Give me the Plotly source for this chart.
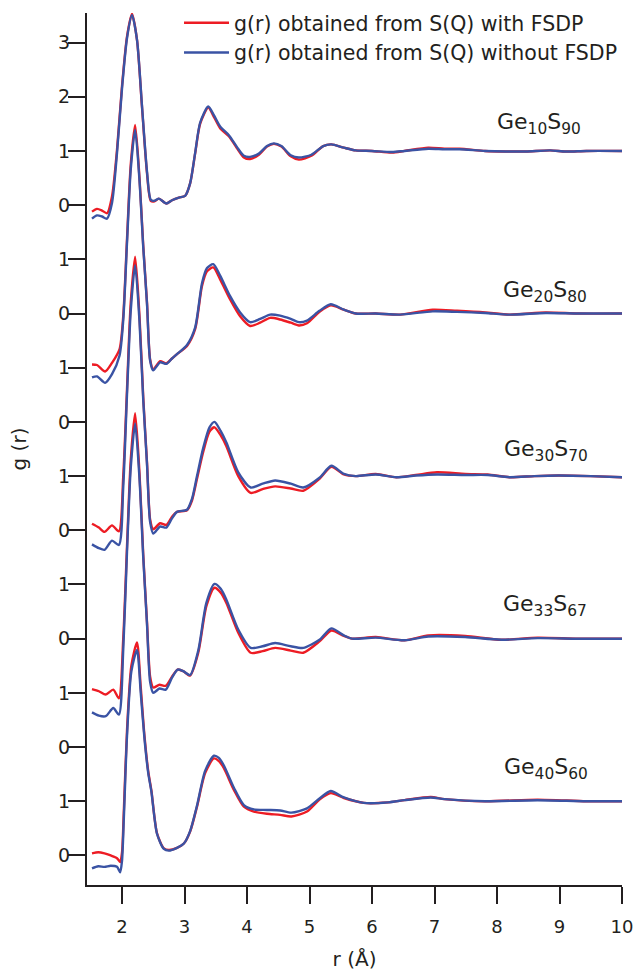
import plotly.graph_objects as go

# ---------------- data ----------------
names = ["Ge<sub>10</sub>S<sub>90</sub>", "Ge<sub>20</sub>S<sub>80</sub>",
         "Ge<sub>30</sub>S<sub>70</sub>", "Ge<sub>33</sub>S<sub>67</sub>",
         "Ge<sub>40</sub>S<sub>60</sub>"]
offsets = [12, 9, 6, 3, 0]

r_ge10 = [1.52, 1.60, 1.68, 1.76, 1.84, 1.92, 2.00, 2.08, 2.16, 2.24, 2.32, 2.40, 2.46, 2.52, 2.59,
          2.71, 2.80, 2.91, 3.01, 3.09, 3.17, 3.25, 3.38, 3.47, 3.57, 3.71, 3.84, 3.95, 4.05, 4.19,
          4.32, 4.43, 4.55, 4.70, 4.83, 5.03, 5.22, 5.35, 5.55, 5.74, 6.00, 6.32, 6.52, 6.90, 7.16,
          7.40, 7.81, 8.14, 8.46, 8.85, 9.10, 9.43, 10.0]
red_ge10 = [-0.12, -0.07, -0.10, -0.15, 0.16, 1.02, 2.19, 3.11, 3.53, 3.05, 1.81, 0.59, 0.08, 0.07, 0.12,
            0.03, 0.09, 0.14, 0.17, 0.40, 0.95, 1.50, 1.80, 1.63, 1.42, 1.27, 1.05, 0.88, 0.85, 0.93,
            1.08, 1.13, 1.08, 0.90, 0.84, 0.91, 1.09, 1.12, 1.06, 1.01, 1.00, 0.97, 1.00, 1.06, 1.04,
            1.04, 1.00, 0.99, 0.99, 1.01, 0.99, 1.00, 1.00]
blue_ge10 = [-0.25, -0.19, -0.21, -0.25, 0.04, 0.96, 2.15, 3.08, 3.51, 3.05, 1.83, 0.62, 0.10, 0.08, 0.12,
             0.03, 0.09, 0.14, 0.17, 0.40, 0.96, 1.52, 1.82, 1.66, 1.45, 1.29, 1.07, 0.91, 0.89, 0.95,
             1.09, 1.14, 1.09, 0.92, 0.88, 0.93, 1.09, 1.12, 1.06, 1.01, 1.00, 0.98, 1.00, 1.04, 1.03,
             1.03, 1.00, 0.99, 0.99, 1.01, 0.99, 1.00, 1.00]

r_ge20 = [1.52, 1.60, 1.73, 1.84, 1.96, 2.02, 2.08, 2.14, 2.21, 2.28, 2.34, 2.40, 2.45, 2.50, 2.61,
          2.71, 2.80, 2.88, 3.04, 3.17, 3.28, 3.36, 3.46, 3.57, 3.73, 3.89, 4.05, 4.21, 4.37, 4.53,
          4.70, 4.83, 4.96, 5.16, 5.34, 5.55, 5.74, 6.06, 6.45, 6.97, 7.36, 7.81, 8.20, 8.78, 9.30,
          10.0]
red_ge20 = [0.06, 0.05, -0.07, 0.09, 0.34, 0.95, 2.37, 3.75, 4.48, 3.50, 2.25, 1.20, 0.15, -0.03, 0.12,
            0.08, 0.17, 0.25, 0.40, 0.71, 1.51, 1.78, 1.85, 1.63, 1.26, 0.95, 0.77, 0.83, 0.92, 0.89,
            0.83, 0.78, 0.82, 1.03, 1.15, 1.07, 1.00, 1.00, 0.98, 1.07, 1.05, 1.02, 0.98, 1.02, 1.00,
            1.00]
blue_ge20 = [-0.18, -0.16, -0.28, -0.12, 0.22, 0.88, 2.30, 3.66, 4.39, 3.45, 2.22, 1.18, 0.13, -0.05, 0.10,
             0.07, 0.17, 0.25, 0.42, 0.74, 1.56, 1.84, 1.91, 1.70, 1.32, 1.02, 0.84, 0.90, 0.98, 0.96,
             0.90, 0.84, 0.87, 1.05, 1.17, 1.07, 1.00, 1.00, 0.98, 1.04, 1.03, 1.01, 0.98, 1.01, 1.00,
             1.00]

r_ge30 = [1.52, 1.63, 1.72, 1.84, 1.95, 2.02, 2.08, 2.14, 2.21, 2.28, 2.34, 2.40, 2.45, 2.50, 2.61,
          2.71, 2.80, 2.88, 3.04, 3.12, 3.20, 3.30, 3.40, 3.48, 3.58, 3.67, 3.86, 4.06, 4.25, 4.45,
          4.70, 4.90, 5.16, 5.35, 5.55, 5.74, 6.06, 6.39, 6.70, 7.04, 7.49, 7.85, 8.20, 8.60, 8.98,
          9.50, 10.0]
red_ge30 = [0.12, 0.05, -0.03, 0.09, -0.02, 1.00, 2.60, 4.20, 5.05, 3.95, 2.45, 1.25, 0.20, 0.02, 0.13,
            0.10, 0.25, 0.34, 0.37, 0.55, 0.95, 1.45, 1.82, 1.90, 1.75, 1.55, 1.00, 0.69, 0.76, 0.81,
            0.77, 0.73, 0.95, 1.17, 1.03, 1.00, 1.04, 0.98, 1.02, 1.07, 1.04, 1.03, 0.98, 1.00, 1.01,
            1.00, 0.98]
blue_ge30 = [-0.26, -0.33, -0.36, -0.19, -0.27, 0.80, 2.50, 4.05, 4.89, 3.85, 2.40, 1.22, 0.15, -0.06, 0.07,
             0.05, 0.22, 0.34, 0.38, 0.58, 1.00, 1.52, 1.90, 2.00, 1.83, 1.62, 1.07, 0.79, 0.86, 0.92,
             0.86, 0.79, 0.97, 1.19, 1.04, 1.00, 1.03, 0.98, 1.01, 1.03, 1.02, 1.02, 0.98, 1.00, 1.01,
             1.00, 0.98]

r_ge33 = [1.52, 1.63, 1.74, 1.86, 1.95, 2.02, 2.08, 2.14, 2.21, 2.28, 2.34, 2.40, 2.45, 2.50, 2.60,
          2.70, 2.80, 2.89, 2.98, 3.09, 3.22, 3.35, 3.48, 3.58, 3.67, 3.86, 4.06, 4.25, 4.45, 4.70,
          4.90, 5.16, 5.35, 5.55, 5.68, 6.06, 6.52, 6.90, 7.49, 8.07, 8.65, 9.30, 10.0]
red_ge33 = [0.07, 0.03, -0.03, 0.06, -0.10, 1.00, 2.70, 4.30, 5.16, 4.05, 2.55, 1.30, 0.30, 0.10, 0.15,
            0.13, 0.30, 0.43, 0.40, 0.32, 0.74, 1.60, 1.94, 1.85, 1.66, 1.11, 0.74, 0.77, 0.83, 0.78,
            0.74, 0.95, 1.15, 1.05, 1.00, 1.03, 0.97, 1.06, 1.05, 0.98, 1.02, 1.00, 1.00]
blue_ge33 = [-0.36, -0.42, -0.43, -0.28, -0.40, 0.80, 2.60, 4.15, 4.97, 3.95, 2.50, 1.27, 0.20, 0.00, 0.08,
             0.06, 0.28, 0.43, 0.40, 0.33, 0.78, 1.66, 2.01, 1.92, 1.72, 1.17, 0.83, 0.86, 0.92, 0.86,
             0.83, 0.98, 1.19, 1.06, 1.00, 1.02, 0.97, 1.04, 1.03, 0.98, 1.01, 1.00, 1.00]

r_ge40 = [1.52, 1.62, 1.72, 1.82, 1.92, 1.97, 2.00, 2.03, 2.08, 2.15, 2.24, 2.30, 2.36, 2.42, 2.47,
          2.56, 2.67, 2.75, 2.88, 2.99, 3.09, 3.20, 3.33, 3.47, 3.55, 3.63, 3.79, 3.95, 4.11, 4.32,
          4.53, 4.71, 4.96, 5.16, 5.34, 5.55, 5.87, 6.26, 6.52, 6.94, 7.16, 7.81, 8.65, 9.43, 10.0]
red_ge40 = [0.04, 0.06, 0.04, 0.00, -0.05, -0.12, 0.05, 0.84, 2.30, 3.50, 3.93, 3.10, 2.20, 1.55, 1.20,
            0.41, 0.13, 0.10, 0.14, 0.22, 0.44, 0.90, 1.52, 1.79, 1.74, 1.61, 1.21, 0.90, 0.81, 0.77,
            0.75, 0.72, 0.81, 1.03, 1.15, 1.06, 0.97, 0.98, 1.02, 1.08, 1.04, 1.00, 1.03, 1.00, 1.00]
blue_ge40 = [-0.24, -0.20, -0.21, -0.19, -0.21, -0.31, -0.10, 0.70, 2.20, 3.40, 3.79, 3.00, 2.15, 1.52, 1.18,
             0.40, 0.12, 0.09, 0.14, 0.22, 0.45, 0.92, 1.56, 1.84, 1.80, 1.66, 1.25, 0.93, 0.85, 0.84,
             0.83, 0.79, 0.87, 1.05, 1.19, 1.07, 0.97, 0.98, 1.02, 1.07, 1.04, 1.00, 1.02, 1.00, 1.00]

r_sets = [r_ge10, r_ge20, r_ge30, r_ge33, r_ge40]
red_sets = [red_ge10, red_ge20, red_ge30, red_ge33, red_ge40]
blue_sets = [blue_ge10, blue_ge20, blue_ge30, blue_ge33, blue_ge40]

x_ticks = [2, 3, 4, 5, 6, 7, 8, 9, 10]
y_tickvals = list(range(16))
y_ticktext = ["0", "1", "0", "1", "0", "1", "0", "1", "0", "1", "0", "1", "0", "1", "2", "3"]

legend_red = "g(r) obtained from S(Q) with FSDP"
legend_blue = "g(r) obtained from S(Q) without FSDP"

# ---------------- styling ----------------
RED = "#ED1C24"
BLUE = "#3A53A4"
INK = "#231F20"
FONT = "DejaVu Sans"

fig = go.Figure()

for i, (r, g, off) in enumerate(zip(r_sets, red_sets, offsets)):
    fig.add_trace(go.Scatter(
        x=r, y=[v + off for v in g], mode="lines",
        line=dict(color=RED, width=2.4, shape="spline", smoothing=0.7),
        name=legend_red, showlegend=(i == 0), hoverinfo="skip"))

for i, (r, g, off) in enumerate(zip(r_sets, blue_sets, offsets)):
    fig.add_trace(go.Scatter(
        x=r, y=[v + off for v in g], mode="lines",
        line=dict(color=BLUE, width=2.4, shape="spline", smoothing=0.7),
        name=legend_blue, showlegend=(i == 0), hoverinfo="skip"))

label_x = [8.67, 8.76, 8.79, 8.76, 8.79]
label_y = [13.50, 10.40, 7.47, 4.61, 1.61]
for name, lx, ly in zip(names, label_x, label_y):
    fig.add_annotation(x=lx, y=ly, xref="x", yref="y", text=name, showarrow=False,
                       font=dict(family=FONT, size=22, color=INK),
                       xanchor="center", yanchor="middle")

fig.update_layout(
    width=633, height=971,
    margin=dict(l=87, r=11, t=13, b=86, autoexpand=False),
    plot_bgcolor="white", paper_bgcolor="white",
    font=dict(family=FONT, color=INK),
    showlegend=True,
    legend=dict(x=0.172, y=1.0115, xanchor="left", yanchor="top",
                font=dict(family=FONT, size=20.5, color=INK),
                bgcolor="rgba(0,0,0,0)", traceorder="normal",
                itemwidth=45),
    xaxis=dict(range=[1.44, 10.0], tickvals=x_ticks, ticktext=[str(t) for t in x_ticks],
               ticks="outside", ticklen=17, tickwidth=2, tickcolor=INK,
               showline=True, linewidth=2, linecolor=INK,
               showgrid=False, zeroline=False, ticklabeloverflow="allow",
               ticklabelstandoff=7,
               tickfont=dict(family=FONT, size=18, color=INK),
               title=dict(text="r (Å)", font=dict(family=FONT, size=20, color=INK), standoff=16)),
    yaxis=dict(range=[-0.545, 15.545], tickvals=y_tickvals, ticktext=y_ticktext,
               ticks="outside", ticklen=17, tickwidth=2, tickcolor=INK,
               showline=True, linewidth=2, linecolor=INK,
               showgrid=False, zeroline=False, ticklabeloverflow="allow",
               ticklabelstandoff=-6,
               tickfont=dict(family=FONT, size=19, color=INK),
               title=dict(text="g (r)", font=dict(family=FONT, size=20, color=INK), standoff=26)),
)

# remove the default 8 px page margin so the 633x971 figure fills the window exactly
fig.write_html("out.html",
               config={"displayModeBar": False},
               post_script="document.body.style.margin='0px';document.body.style.overflow='hidden';")
